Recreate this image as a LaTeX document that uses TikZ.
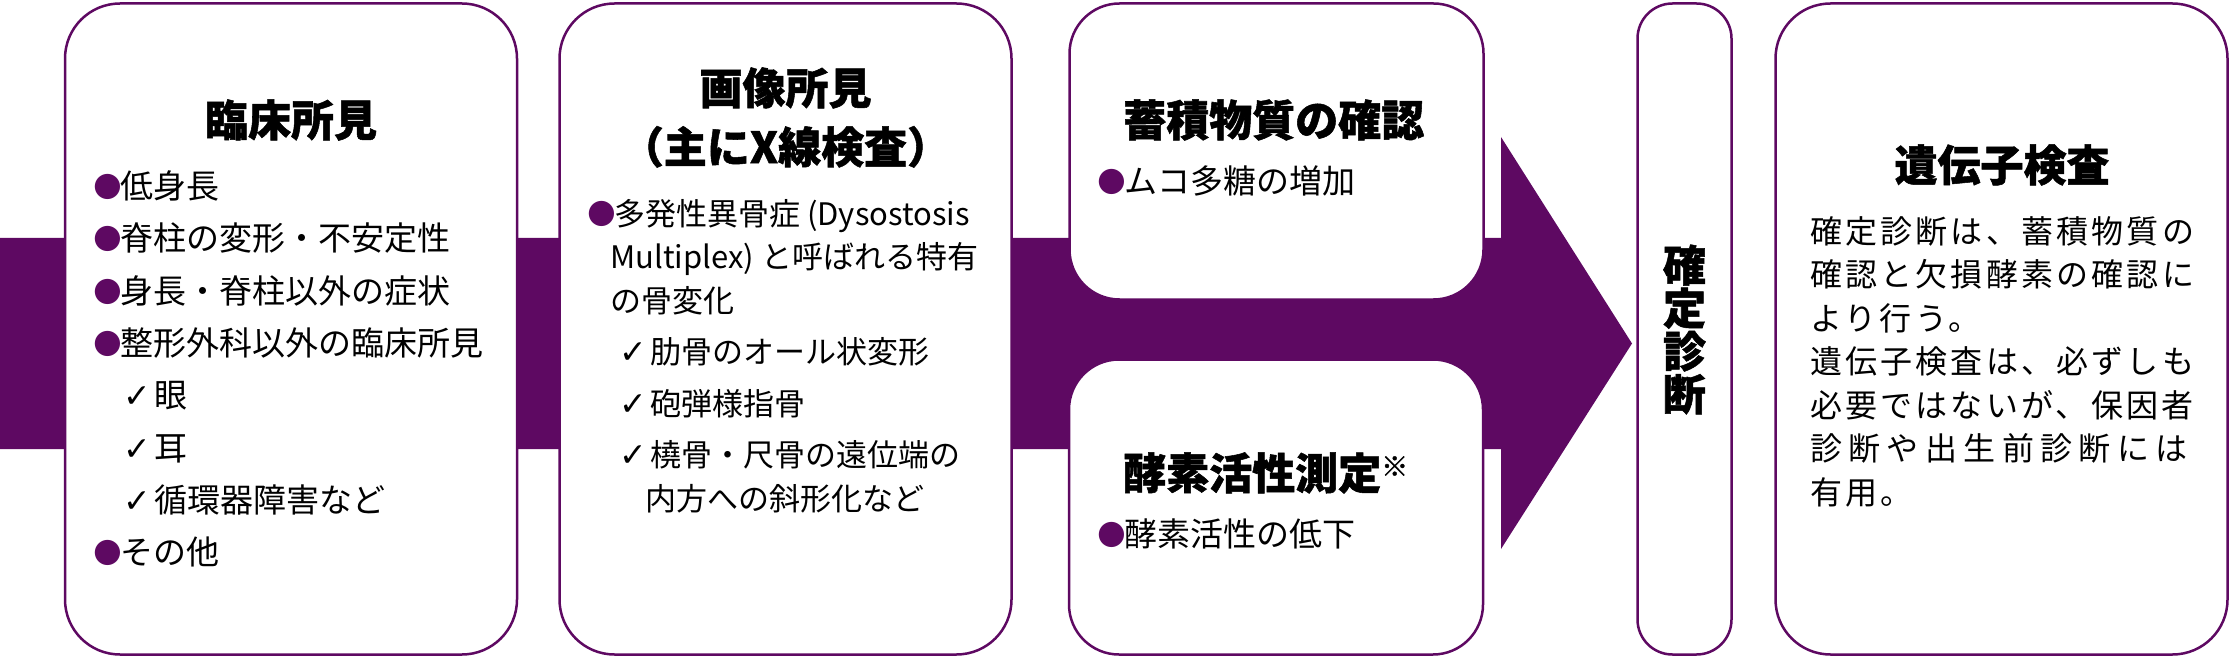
\documentclass[tikz,border=0pt]{standalone}
\usepackage{fontspec}
\setmainfont{Noto Sans CJK JP}
\newfontfamily\symfont{DejaVu Sans}
\definecolor{mpsPurple}{RGB}{94,9,98}
\newcommand\bul{\makebox[27pt][l]{\raisebox{3pt}{\color{mpsPurple}\fontsize{33}{33}\selectfont\symfont ●}}}
\newcommand\chk{\makebox[31pt][l]{\fontsize{33}{33}\selectfont\symfont ✓}}
\tikzset{
	panel/.style={draw=mpsPurple, line width=2.5pt, fill=white, rounded corners=55pt, inner sep=0},
	headline/.style={font=\fontsize{43}{59}\selectfont\bfseries\addfontfeature{FakeBold=1.2}, align=center, inner sep=0},
	itemlist/.style={font=\fontsize{33}{52.3}\selectfont, align=left, inner sep=0, anchor=north west},
}
\begin{document}
\begin{tikzpicture}[x=1pt,y=-1pt]
	\useasboundingbox (0,0) rectangle (2232,660);

	\fill[mpsPurple] (0,238) -- (1501,238) -- (1501,137) -- (1632,343.5) -- (1501,549) -- (1501,449) -- (0,449) -- cycle;

	\node[panel, minimum width=452, minimum height=651] (clin) at (291,329) {};
	\node[panel, minimum width=452, minimum height=651] (img)  at (785.5,329) {};
	\node[panel, minimum width=414, minimum height=296, rounded corners=50pt] (stor) at (1276.5,151.5) {};
	\node[panel, minimum width=414, minimum height=295, rounded corners=50pt] (enz)  at (1276,507) {};
	\node[panel, minimum width=94, minimum height=651, rounded corners=35pt] (diag) at (1684.5,329) {};
	\node[panel, minimum width=452, minimum height=651] (gene) at (2001.5,329) {};

	\node[headline] (clinT) at (291,120) {臨床所見};
	\node[itemlist] (clinL) at (93,170.5) {\bul 低身長\\
		\bul 脊柱の変形・不安定性\\
		\bul 身長・脊柱以外の症状\\
		\bul 整形外科以外の臨床所見\\
		\hspace*{30pt}\chk 眼\\
		\hspace*{30pt}\chk 耳\\
		\hspace*{30pt}\chk 循環器障害など\\
		\bul その他};

	\node[headline] (imgT) at (785.5,117.5) {画像所見\\（主にX線検査）};
	\node[itemlist, font=\fontsize{31}{43.5}\selectfont] (imgL) at (587,199) {\bul 多発性異骨症 (Dysostosis\\
		\hspace*{23pt}Multiplex) と呼ばれる特有\\
		\hspace*{23pt}の骨変化\\[8pt]
		\hspace*{32pt}\chk 肋骨のオール状変形\\[8pt]
		\hspace*{32pt}\chk 砲弾様指骨\\[8pt]
		\hspace*{32pt}\chk 橈骨・尺骨の遠位端の\\
		\hspace*{58pt}内方への斜形化など};

	\node[headline, anchor=west] (storT) at (1123,120) {蓄積物質の確認};
	\node[itemlist, anchor=west] (storL) at (1097,181) {\bul ムコ多糖の増加};

	\node[headline, anchor=west] (enzT) at (1123,473) {酵素活性測定\raisebox{13pt}[0pt][0pt]{\fontsize{27}{27}\selectfont\mdseries ※}};
	\node[itemlist, anchor=west] (enzL) at (1097,534) {\bul 酵素活性の低下};

	\node[headline, font=\fontsize{43}{43}\selectfont\bfseries\addfontfeature{FakeBold=1.2}] (diagT) at (1684.5,329.5) {確\\定\\診\\断};

	\node[headline] (geneT) at (2002,165) {遺伝子検査};
	\node[itemlist, font=\fontsize{32}{43.5}\selectfont\addfontfeature{LetterSpace=10}] (geneL) at (1810,216) {確定診断は、蓄積物質の\\
		確認と欠損酵素の確認に\\
		より行う。\\
		遺伝子検査は、必ずしも\\
		必要ではないが、保因者\\
		{\addfontfeature{LetterSpace=20}診断や出生前診断には}\\
		有用。};
\end{tikzpicture}
\end{document}
